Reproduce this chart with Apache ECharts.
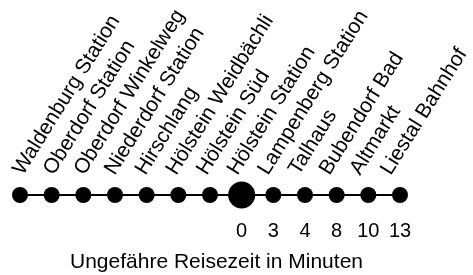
<!DOCTYPE html>
<html>
<head>
<meta charset="utf-8">
<script src="https://cdn.jsdelivr.net/npm/echarts@6/dist/echarts.min.js"></script>
<style>
  html, body { margin: 0; padding: 0; background: #fff; }
  #chart { width: 473px; height: 275px; }
</style>
</head>
<body>
<div id="chart"></div>
<script>
// Haltestellen der Waldenburgerbahn
const stations = [
  'Waldenburg Station', 'Oberdorf Station', 'Oberdorf Winkelweg', 'Niederdorf Station',
  'Hirschlang', 'Hölstein Weidbächli', 'Hölstein Süd', 'Hölstein Station',
  'Lampenberg Station', 'Talhaus', 'Bubendorf Bad', 'Altmarkt', 'Liestal Bahnhof'
];
// Reisezeit ab Hölstein Station (Minuten), leer = keine Angabe
const travelMinutes = ['', '', '', '', '', '', '', '0', '3', '4', '8', '10', '13'];
// alle Haltestellen liegen auf einer Linie
const trackLevel = [0, 0, 0, 0, 0, 0, 0, 0, 0, 0, 0, 0, 0];
const hub = 'Hölstein Station';

const font = 'Liberation Sans, Arial, sans-serif';
const chart = echarts.init(document.getElementById('chart'));

chart.setOption({
  animation: false,
  title: {
    text: 'Ungefähre Reisezeit in Minuten',
    left: 70,
    top: 252,
    padding: 0,
    textStyle: { fontFamily: font, fontSize: 21, fontWeight: 'normal', color: '#000' }
  },
  grid: [
    // Linie mit Punkten
    { left: 20, right: 73, top: 194, height: 2 },
    // Beschriftung der Haltestellen (leicht nach links versetzt)
    { left: 18, right: 75, top: 173, height: 2 }
  ],
  xAxis: [
    {
      type: 'category',
      gridIndex: 0,
      data: travelMinutes,
      boundaryGap: false,
      position: 'bottom',
      axisLine: { show: false },
      axisTick: { show: false },
      axisLabel: {
        interval: 0,
        margin: 25,
        fontFamily: font,
        fontSize: 20,
        color: '#000'
      }
    },
    {
      type: 'category',
      gridIndex: 1,
      data: stations,
      boundaryGap: false,
      position: 'top',
      axisLine: { show: false },
      axisTick: { show: false },
      axisLabel: {
        interval: 0,
        rotate: 58,
        margin: 0,
        fontFamily: font,
        fontSize: 21,
        color: '#000'
      }
    }
  ],
  yAxis: [
    { type: 'value', gridIndex: 0, min: -1, max: 1, show: false },
    { type: 'value', gridIndex: 1, min: -1, max: 1, show: false }
  ],
  series: [
    {
      type: 'line',
      xAxisIndex: 0,
      yAxisIndex: 0,
      data: trackLevel,
      symbol: 'circle',
      symbolSize: function (val, params) {
        return stations[params.dataIndex] === hub ? 27 : 16;
      },
      showAllSymbol: true,
      lineStyle: { color: '#000', width: 2 },
      itemStyle: { color: '#000' }
    }
  ]
});
</script>
</body>
</html>
